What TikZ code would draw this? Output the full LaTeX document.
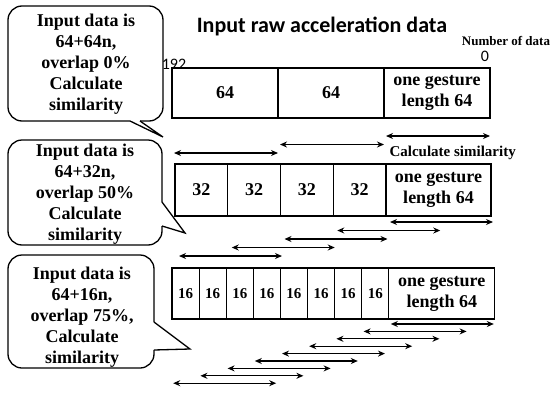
\documentclass[tikz,border=0pt]{standalone}
\usepackage{fontspec}
\setmainfont{Liberation Serif}
\newfontfamily\calibri{Carlito}
\usetikzlibrary{arrows.meta,positioning,calc}

\tikzset{
  cell/.style={draw,line width=1.2pt,minimum height=51pt,inner sep=0pt,outer sep=0pt,
    font=\bfseries\fontsize{18}{21}\selectfont,align=center},
  span/.style={{Stealth[length=7pt,width=6pt]}-{Stealth[length=7pt,width=6pt]},line width=1.3pt},
  bubble/.style={line width=1.3pt,rounded corners=14pt},
  say/.style={font=\bfseries\fontsize{18}{21}\selectfont,align=center}
}

\begin{document}
\begin{tikzpicture}[x=1pt,y=-1pt]

\useasboundingbox (0,0) rectangle (555,394);

\node[font=\calibri\bfseries\fontsize{22}{26}\selectfont] (title) at (322,26) {Input raw acceleration data};

\node[inner sep=0pt,font=\calibri\fontsize{16}{18}\selectfont] (start) at (174,64) {192};

\node[inner sep=0pt,font=\bfseries\fontsize{13}{15}\selectfont] (count) at (506,41) {Number of data};

\node[inner sep=0pt,font=\calibri\fontsize{16}{18}\selectfont] (zero) at (485,56) {0};

\node[cell,minimum width=106pt,minimum height=50pt,anchor=north west] (a1) at (172,68) {64};
\node[cell,minimum width=106pt,minimum height=50pt,right=0pt of a1] (a2) {64};
\node[cell,minimum width=106pt,minimum height=50pt,right=0pt of a2] (g1) {one gesture\\length 64};

\foreach \i in {0,1,2}
  \draw[span] ($(g1.south west)+(2-106*\i,18+8.5*\i)$) -- ++(104,0);

\node[font=\bfseries\fontsize{15}{18}\selectfont,anchor=west] (simnote) at (386,153) {Calculate similarity};

\node[cell,minimum width=52.75pt,minimum height=52pt,anchor=north west] (b1) at (175,164) {32};
\foreach \i [count=\j from 1] in {2,3,4}
  \node[cell,minimum width=52.75pt,minimum height=52pt,right=0pt of b\j] (b\i) {32};
\node[cell,minimum width=105pt,minimum height=52pt,right=0pt of b4] (g2) {one gesture\\length 64};

\foreach \i in {0,...,4}
  \draw[span] ($(g2.south west)+(4-52.75*\i,6+8.5*\i)$) -- ++(103,0);

\node[cell,minimum width=27.1pt,font=\bfseries\fontsize{15}{18}\selectfont,anchor=north west] (c1) at (172,268) {16};
\foreach \i [count=\j from 1] in {2,...,8}
  \node[cell,minimum width=27.1pt,font=\bfseries\fontsize{15}{18}\selectfont,right=0pt of c\j] (c\i) {16};
\node[cell,minimum width=106pt,right=0pt of c8] (g3) {one gesture\\length 64};

\foreach \i in {0,...,8}
  \draw[span] ($(g3.south west)+(2-27.2*\i,5+7.4*\i)$) -- ++(103,0);

\draw[bubble] (130,121) -- (8,121) -- (8,6) -- (163,6) -- (163,121) -- (140,121);
\draw[line width=1.3pt] (140,121) -- (163,137) -- (130,121);
\node[say] (q1) at (86,64) {Input data is\\64+64n,\\overlap 0\%\\Calculate\\similarity};

\draw[bubble] (162,226) -- (162,245) -- (8,245) -- (8,140) -- (162,140) -- (162,202);
\draw[line width=1.3pt] (162,202) -- (185,233) -- (162,226);
\node[say] (q2) at (85,194) {Input data is\\64+32n,\\overlap 50\%\\Calculate\\similarity};

\draw[bubble] (154,350) -- (154,368) -- (8,368) -- (8,255) -- (154,255) -- (154,322);
\draw[line width=1.3pt] (154,322) -- (190,349) -- (154,350);
\node[say] (q3) at (82,317) {Input data is\\64+16n,\\overlap 75\%,\\Calculate\\similarity};

\end{tikzpicture}
\end{document}
